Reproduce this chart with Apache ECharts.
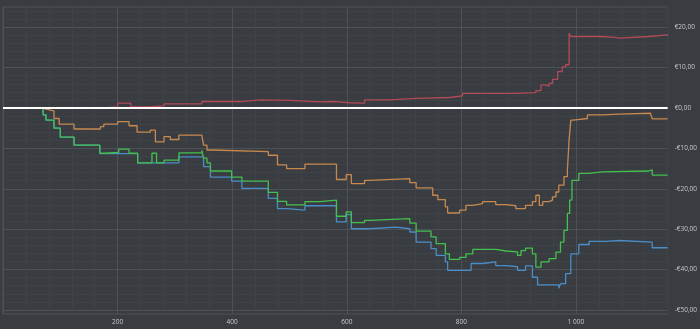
<!DOCTYPE html>
<html>
<head>
<meta charset="utf-8">
<script src="https://cdn.jsdelivr.net/npm/echarts@6/dist/echarts.min.js"></script>
<style>
html,body{margin:0;padding:0;background:#393c41;}
#c{width:700px;height:329px;}
</style>
</head>
<body>
<div id="c"></div>
<script>
// ---- data (x = trade number, y = euros), values hold until next change ----
var redX = [2,153,173,200,223,254,281,347,414,449,501,553,579,605,631,675,721,779,802,895,930,939,946,953,959,968,976,982,988,991,1040,1069,1075,1127,1160];
var redY = [0,0,0.3,1.2,0.3,0.5,1.0,1.6,2.0,1.9,1.5,1.6,1.3,1.2,2.0,2.4,2.6,3.0,3.6,3.8,4.3,5.7,5.4,6.1,7.1,9.0,10.2,10.7,18.5,17.7,17.5,17.3,17.7,18.1,17.9];

var orangeX = [2,70,75,89,98,124,170,176,200,220,234,257,266,281,292,307,347,350,356,365,463,479,495,527,582,599,608,631,640,710,721,750,759,772,776,797,808,820,837,860,878,895,912,924,930,936,942,953,959,965,970,979,985,988,991,995,1020,1046,1075,1130,1133,1160];
var orangeY = [0,-0.3,-0.7,-2.6,-4.0,-5.2,-4.6,-4.0,-3.4,-4.4,-6.0,-5.5,-8.4,-7.1,-7.8,-6.7,-6.3,-9.2,-10.4,-10.8,-11.7,-14.1,-15.0,-13.9,-17.7,-16.5,-18.7,-17.9,-17.5,-18.5,-19.8,-21.6,-22.7,-24.5,-26.0,-25.3,-24.1,-23.7,-23.2,-23.9,-24.2,-24.9,-24.1,-23.2,-21.6,-24.1,-23.2,-22.8,-22.0,-20.8,-19.1,-17.0,-15.4,-7.9,-3.0,-2.6,-1.7,-1.5,-1.3,-1.7,-2.7,-2.7];

var greenX = [2,70,75,89,100,124,169,176,202,220,235,260,268,281,307,347,350,356,362,399,417,463,479,495,527,553,582,599,608,631,640,710,721,747,756,772,779,797,808,820,860,878,898,904,912,924,930,939,953,965,973,979,985,989,993,1005,1023,1046,1127,1133,1160];
var greenY = [0,-1.7,-3.0,-5.0,-7.2,-9.2,-11.2,-11.0,-10.2,-11.2,-13.6,-11.2,-13.6,-12.9,-11.1,-10.5,-12.4,-13.6,-15.6,-17.1,-18.1,-20.9,-23.1,-24.0,-23.2,-22.8,-26.8,-25.7,-28.4,-27.8,-27.4,-28.5,-30.5,-31.9,-33.6,-36.1,-37.5,-37.0,-36.1,-35.0,-35.4,-35.6,-36.5,-35.3,-34.7,-36.1,-39.4,-38.1,-37.3,-35.7,-33.2,-30.3,-26.1,-22.8,-17.9,-16.2,-15.8,-15.6,-15.3,-16.6,-16.6];

var blueX = [2,70,75,89,100,124,169,235,307,350,362,399,417,463,479,495,527,582,599,608,640,686,710,721,747,756,772,776,817,837,860,878,898,912,924,933,970,973,982,991,1005,1023,1052,1075,1133,1160];
var blueY = [0,-1.7,-3.0,-5.0,-7.2,-9.2,-11.3,-13.6,-12.1,-14.5,-17.1,-18.1,-19.9,-22.4,-24.9,-25.3,-24.2,-28.2,-26.4,-29.9,-29.5,-29.9,-30.7,-33.2,-34.8,-36.5,-38.1,-40.2,-38.5,-38.1,-39.0,-39.3,-40.2,-39.1,-41.9,-43.8,-44.6,-43.5,-41.0,-36.1,-33.8,-33.0,-32.8,-33.2,-34.6,-34.6];

var xMin = 0, xMax = 1160, xStep = 40;
var yMin = -51, yMax = 25, yStep = 1;

function pairs(xs, ys){ return xs.map(function(x,i){ return [x, ys[i]]; }); }
function euro(v){
  var a = Math.abs(v);
  return (v < 0 ? '-€' : '€') + a.toFixed(2).replace('.', ',');
}

var MAJOR = '#4e5156', MINOR = '#3f4247', NONE = 'rgba(0,0,0,0)';
var labelStyle = {color:'#c9c9c9', fontSize:6.5, fontFamily:'Open Sans'};

var chart = echarts.init(document.getElementById('c'), null, {renderer:'canvas'});
chart.setOption({
  animation:false,
  backgroundColor:'#393c41',
  grid:{left:3, right:30, top:7, bottom:15, show:true, borderColor:'#4e5156', borderWidth:1, backgroundColor:'transparent'},
  xAxis:{
    type:'value', min:xMin, max:xMax, interval:xStep,
    axisLine:{show:false}, axisTick:{show:false},
    axisLabel:Object.assign({margin:5, formatter:function(v){
      if (v <= 0 || v % 200 !== 0) return '';
      return v >= 1000 ? (Math.floor(v/1000) + ' ' + String(v%1000).padStart(3,'0')) : String(v);
    }}, labelStyle),
    splitLine:{show:true, lineStyle:{width:1, color:[MAJOR, MINOR, MINOR, MINOR, MINOR]}}
  },
  yAxis:{
    type:'value', position:'right', min:yMin, max:yMax, interval:yStep,
    axisLine:{show:false}, axisTick:{show:false},
    axisLabel:Object.assign({margin:7, formatter:function(v){
      return (v % 10 === 0) ? euro(v) : '';
    }}, labelStyle),
    splitLine:{show:true, lineStyle:{width:1, color:[NONE, MAJOR, NONE, MINOR, NONE, MINOR, NONE, MINOR, NONE, MINOR]}}
  },
  series:[
    {type:'line', name:'blue', step:'end', symbol:'none', data:pairs(blueX, blueY),
     lineStyle:{color:'#4b8dc6', width:1.3}, itemStyle:{color:'#4b8dc6'},
     markLine:{silent:true, symbol:'none', label:{show:false},
       lineStyle:{color:'#ffffff', width:2, type:'solid'}, data:[{yAxis:0}]}},
    {type:'line', name:'green', step:'end', symbol:'none', data:pairs(greenX, greenY),
     lineStyle:{color:'#43c04e', width:1.3}, itemStyle:{color:'#43c04e'}},
    {type:'line', name:'orange', step:'end', symbol:'none', data:pairs(orangeX, orangeY),
     lineStyle:{color:'#c8894f', width:1.3}, itemStyle:{color:'#c8894f'}},
    {type:'line', name:'red', step:'end', symbol:'none', data:pairs(redX, redY),
     lineStyle:{color:'#b14b57', width:1.3}, itemStyle:{color:'#b14b57'}}
  ]
});
</script>
</body>
</html>
